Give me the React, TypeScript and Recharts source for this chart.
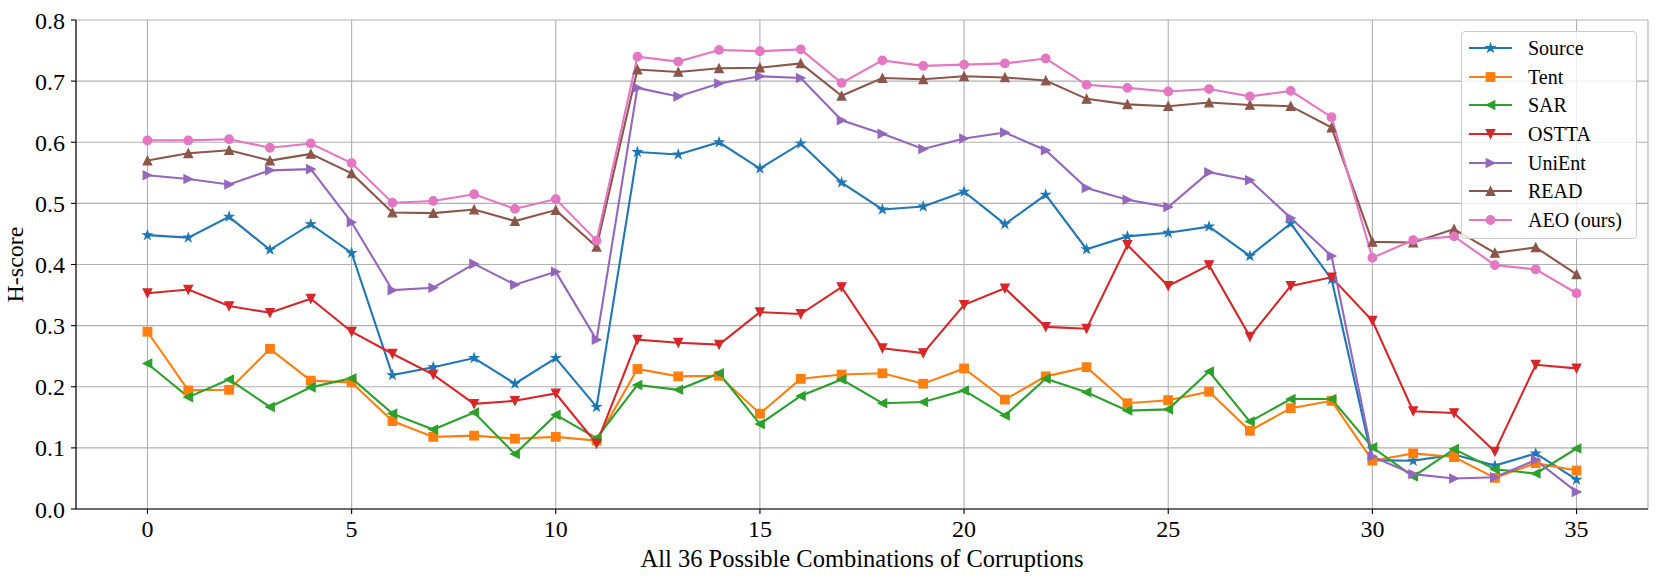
import React from "react";
import { LineChart, Line, XAxis, YAxis, CartesianGrid, Legend } from "recharts";

const combos: number[] = Array.from({ length: 36 }, (_, i) => i);
const xTicks = [0, 5, 10, 15, 20, 25, 30, 35];
const yTicks = [0, 0.1, 0.2, 0.3, 0.4, 0.5, 0.6, 0.7, 0.8];

const sourceVals = [0.448,0.444,0.478,0.424,0.466,0.419,0.219,0.232,0.247,0.205,0.247,0.167,0.584,0.580,0.600,0.557,0.598,0.534,0.490,0.495,0.519,0.466,0.514,0.425,0.446,0.452,0.462,0.414,0.467,0.376,0.080,0.079,0.089,0.071,0.091,0.048];
const tentVals = [0.290,0.194,0.195,0.262,0.210,0.207,0.144,0.118,0.120,0.115,0.118,0.112,0.229,0.217,0.218,0.156,0.213,0.220,0.222,0.205,0.230,0.179,0.217,0.232,0.173,0.178,0.192,0.128,0.165,0.177,0.079,0.091,0.085,0.051,0.075,0.063];
const sarVals = [0.238,0.183,0.212,0.167,0.199,0.214,0.156,0.130,0.158,0.090,0.154,0.116,0.203,0.195,0.222,0.139,0.185,0.212,0.173,0.175,0.194,0.153,0.213,0.191,0.161,0.163,0.225,0.143,0.180,0.180,0.101,0.053,0.098,0.065,0.058,0.099];
const osttaVals = [0.353,0.359,0.332,0.321,0.344,0.290,0.254,0.220,0.172,0.177,0.189,0.107,0.277,0.272,0.269,0.322,0.319,0.363,0.263,0.255,0.334,0.361,0.298,0.295,0.432,0.365,0.399,0.282,0.365,0.379,0.308,0.160,0.157,0.094,0.236,0.230];
const unientVals = [0.546,0.540,0.531,0.554,0.556,0.469,0.358,0.362,0.401,0.367,0.388,0.277,0.689,0.675,0.696,0.708,0.705,0.636,0.614,0.589,0.606,0.616,0.587,0.525,0.506,0.494,0.551,0.538,0.476,0.414,0.086,0.057,0.050,0.052,0.080,0.028];
const readVals = [0.570,0.582,0.587,0.570,0.581,0.549,0.485,0.484,0.490,0.471,0.489,0.429,0.719,0.715,0.721,0.722,0.729,0.676,0.705,0.703,0.708,0.706,0.701,0.671,0.662,0.659,0.665,0.661,0.659,0.624,0.437,0.436,0.458,0.419,0.428,0.384];
const aeoVals = [0.603,0.603,0.605,0.591,0.598,0.566,0.501,0.504,0.515,0.491,0.507,0.439,0.740,0.732,0.751,0.749,0.752,0.697,0.734,0.725,0.727,0.729,0.737,0.694,0.689,0.683,0.687,0.675,0.684,0.641,0.411,0.440,0.446,0.399,0.392,0.353];

type Marker = "star" | "square" | "tleft" | "tdown" | "tright" | "tup" | "circle";

const series: { key: string; name: string; color: string; marker: Marker; values: number[] }[] = [
  { key: "source", name: "Source", color: "#1f77b4", marker: "star", values: sourceVals },
  { key: "tent", name: "Tent", color: "#ff7f0e", marker: "square", values: tentVals },
  { key: "sar", name: "SAR", color: "#2ca02c", marker: "tleft", values: sarVals },
  { key: "ostta", name: "OSTTA", color: "#d62728", marker: "tdown", values: osttaVals },
  { key: "unient", name: "UniEnt", color: "#9467bd", marker: "tright", values: unientVals },
  { key: "read", name: "READ", color: "#8c564b", marker: "tup", values: readVals },
  { key: "aeo", name: "AEO (ours)", color: "#e377c2", marker: "circle", values: aeoVals },
];

const data = combos.map((x, i) => {
  const row: Record<string, number> = { x };
  series.forEach((s) => {
    row[s.key] = s.values[i];
  });
  return row;
});

const FONT = "'Liberation Serif', 'DejaVu Serif', serif";
const MS = 8.6;

function markerShape(kind: Marker, cx: number, cy: number, color: string, key?: string | number) {
  const r = MS / 2;
  const common = { fill: color, stroke: color, strokeWidth: 1.2, strokeLinejoin: "miter" as const };
  const pts = (arr: number[][]) => arr.map(([a, b]) => `${cx + a},${cy + b}`).join(" ");
  switch (kind) {
    case "circle":
      return <circle key={key} cx={cx} cy={cy} r={r} {...common} />;
    case "square":
      return <rect key={key} x={cx - r} y={cy - r} width={MS} height={MS} {...common} />;
    case "tup":
      return <polygon key={key} points={pts([[0, -r], [-r, r], [r, r]])} {...common} />;
    case "tdown":
      return <polygon key={key} points={pts([[0, r], [-r, -r], [r, -r]])} {...common} />;
    case "tleft":
      return <polygon key={key} points={pts([[-r, 0], [r, -r], [r, r]])} {...common} />;
    case "tright":
      return <polygon key={key} points={pts([[r, 0], [-r, -r], [-r, r]])} {...common} />;
    case "star": {
      const ro = r * 1.05;
      const ri = ro * 0.382;
      const p: number[][] = [];
      for (let k = 0; k < 10; k++) {
        const ang = (-90 + k * 36) * (Math.PI / 180);
        const rr = k % 2 === 0 ? ro : ri;
        p.push([rr * Math.cos(ang), rr * Math.sin(ang)]);
      }
      return <polygon key={key} points={pts(p)} {...common} />;
    }
  }
  return null;
}

const makeDot = (kind: Marker, color: string) => (props: any) => {
  const { cx, cy, index } = props;
  if (cx == null || cy == null) return <g key={`d-${index}`} />;
  return markerShape(kind, cx, cy, color, `d-${index}`);
};

const LegendBox = () => (
  <div
    style={{
      width: 176,
      height: 208,
      boxSizing: "border-box",
      border: "1px solid #cccccc",
      borderRadius: 4,
      background: "rgba(255,255,255,0.8)",
      paddingTop: 2,
      fontFamily: FONT,
      fontSize: 20,
      color: "#000",
    }}
  >
    {series.map((s) => (
      <div key={s.key} style={{ display: "flex", alignItems: "center", height: 28.6 }}>
        <svg width={66} height={20} style={{ flex: "none" }}>
          <line x1={7} x2={50} y1={10} y2={10} stroke={s.color} strokeWidth={2.1} />
          {markerShape(s.marker, 28.5, 10, s.color)}
        </svg>
        <span style={{ lineHeight: "20px", whiteSpace: "nowrap" }}>{s.name}</span>
      </div>
    ))}
  </div>
);

const YLabel = (props: any) => {
  const vb = props.viewBox || { x: 10, y: 20, width: 66, height: 489 };
  const x = vb.x + 13;
  const y = vb.y + vb.height / 2;
  return (
    <text
      x={x}
      y={y}
      transform={`rotate(-90, ${x}, ${y})`}
      textAnchor="middle"
      fontFamily={FONT}
      fontSize={24}
      fill="#000"
    >
      H-score
    </text>
  );
};

const XLabel = (props: any) => {
  const vb = props.viewBox || { x: 76, y: 509, width: 1572, height: 60 };
  const x = vb.x + vb.width / 2;
  const y = vb.y + 58;
  return (
    <text x={x} y={y} textAnchor="middle" fontFamily={FONT} fontSize={24.5} fill="#000">
      All 36 Possible Combinations of Corruptions
    </text>
  );
};

export default function App() {
  return (
    <div style={{ position: "absolute", left: 0, top: 0, width: 1660, height: 579, background: "#fff" }}>
      <LineChart width={1660} height={579} data={data} margin={{ top: 20, right: 12, bottom: 10, left: 10 }}>
        <CartesianGrid stroke="#b0b0b0" strokeWidth={1.1} />
        <XAxis
          dataKey="x"
          type="number"
          domain={[-1.75, 36.75]}
          ticks={xTicks}
          allowDataOverflow
          height={60}
          tickSize={5}
          tickMargin={6}
          stroke="#000"
          axisLine={{ stroke: "#000", strokeWidth: 1.1 }}
          tickLine={{ stroke: "#000", strokeWidth: 1.1 }}
          tick={{ fill: "#000", fontSize: 24, fontFamily: FONT }}
          label={<XLabel />}
        />
        <XAxis
          xAxisId="top"
          orientation="top"
          type="number"
          domain={[-1.75, 36.75]}
          height={0}
          tick={false}
          tickLine={false}
          axisLine={{ stroke: "#000", strokeWidth: 1.1 }}
        />
        <YAxis
          type="number"
          domain={[0, 0.8]}
          ticks={yTicks}
          allowDataOverflow
          width={66}
          tickSize={5}
          tickMargin={6}
          stroke="#000"
          axisLine={{ stroke: "#000", strokeWidth: 1.1 }}
          tickLine={{ stroke: "#000", strokeWidth: 1.1 }}
          tick={{ fill: "#000", fontSize: 24, fontFamily: FONT }}
          tickFormatter={(v: number) => v.toFixed(1)}
          label={<YLabel />}
        />
        <YAxis
          yAxisId="right"
          orientation="right"
          type="number"
          domain={[0, 0.8]}
          width={0}
          tick={false}
          tickLine={false}
          axisLine={{ stroke: "#000", strokeWidth: 1.1 }}
        />
        {series.map((s) => (
          <Line
            key={s.key}
            type="linear"
            dataKey={s.key}
            name={s.name}
            stroke={s.color}
            strokeWidth={2.1}
            dot={makeDot(s.marker, s.color)}
            activeDot={false}
            isAnimationActive={false}
          />
        ))}
        <Legend
          layout="vertical"
          align="center"
          verticalAlign="middle"
          wrapperStyle={{ position: "absolute", left: 1461, top: 31, width: 176, height: 208 }}
          content={() => <LegendBox />}
        />
      </LineChart>
    </div>
  );
}
